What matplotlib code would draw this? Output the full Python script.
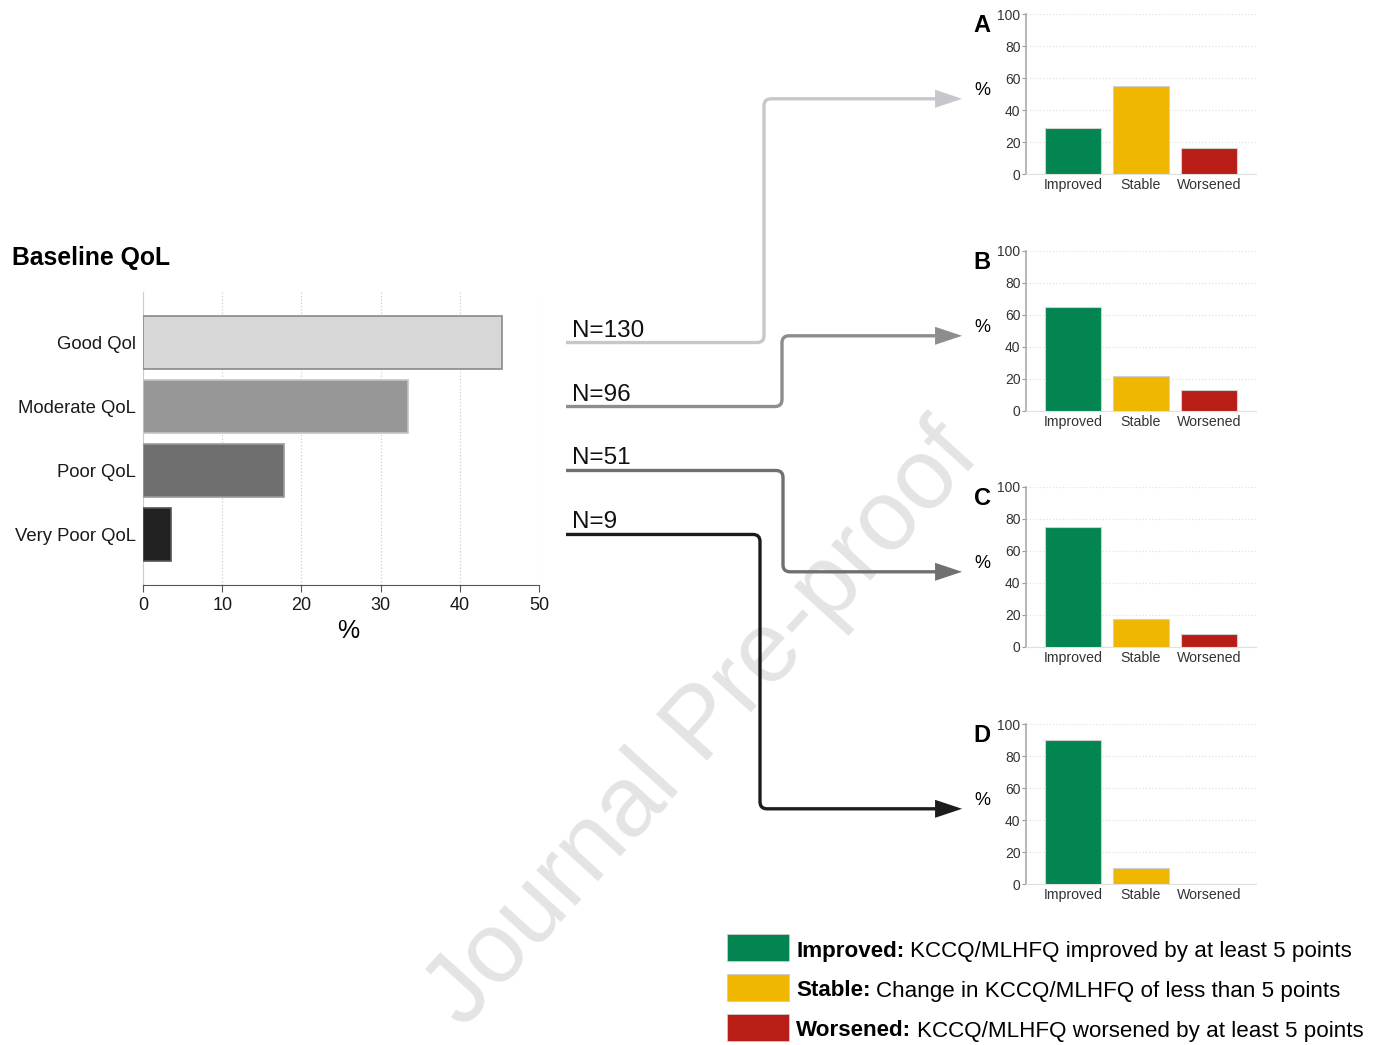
import numpy as np
import matplotlib.pyplot as plt
from matplotlib.patches import Rectangle, Polygon, PathPatch
from matplotlib.path import Path

plt.rcParams['font.family'] = ['Liberation Sans', 'DejaVu Sans']

W, H = 1380, 1045

# baseline QoL distribution
qol_labels = ['Good Qol', 'Moderate QoL', 'Poor QoL', 'Very Poor QoL']
qol_pct = [45.3, 33.5, 17.8, 3.5]
qol_n = [130, 96, 51, 9]
qol_colors = ['#d7d7d7', '#979797', '#6e6e6e', '#222222']
qol_edges = ['#8a8a8a', '#c4c4c4', '#9a9a9a', '#555555']
line_colors = ['#c6c6cc', '#8d8d8d', '#707070', '#1c1c1c']

# change at follow-up, per baseline group
panel_names = ['A', 'B', 'C', 'D']
outcomes = ['Improved', 'Stable', 'Worsened']
outcome_colors = ['#028550', '#efb700', '#b81d16']
pct_A = [29, 55, 16]
pct_B = [65, 22, 13]
pct_C = [75, 17.5, 8]
pct_D = [90, 10, 0]
panel_vals = [pct_A, pct_B, pct_C, pct_D]

legend_bold = ['Improved:', 'Stable:', 'Worsened:']
legend_text = ['KCCQ/MLHFQ improved by at least 5 points',
               'Change in KCCQ/MLHFQ of less than 5 points',
               'KCCQ/MLHFQ worsened by at least 5 points']

fig = plt.figure(figsize=(W / 100, H / 100), dpi=100)
fig.patch.set_facecolor('white')

def fx(px):
    return px / W

def fy(py):
    return 1 - py / H

# overlay in pixel coords for connectors, labels, legend
ov = fig.add_axes([0, 0, 1, 1], zorder=-1)
ov.set_xlim(0, W)
ov.set_ylim(H, 0)
ov.axis('off')
ov.patch.set_alpha(0)

ov.text(704, 726, 'Journal Pre-proof', rotation=47.8, fontsize=72, color='#e4e4e4',
        ha='center', va='center', rotation_mode='anchor', zorder=0)

# left chart
ax = fig.add_axes([fx(143), fy(585), (539 - 143) / W, (585 - 292) / H])
y = np.arange(len(qol_labels))
ax.barh(y, qol_pct, height=0.82, color=qol_colors, edgecolor=qol_edges, linewidth=1.2, zorder=3)
ax.set_ylim(3.79, -0.79)
ax.set_xlim(0, 50)
ax.set_xticks(range(0, 51, 10))
ax.set_yticks(y)
ax.set_yticklabels(qol_labels, fontsize=13.3, color='#1a1a1a')
ax.tick_params(axis='y', length=0, pad=5)
ax.tick_params(axis='x', length=5, color='#555555', labelsize=13, pad=4, labelcolor='#1a1a1a')
ax.grid(axis='x', linestyle=':', color='#cfcfcf', linewidth=0.9, zorder=0)
ax.spines['top'].set_visible(False)
ax.spines['right'].set_visible(False)
ax.spines['left'].set_color('#cccccc')
ax.spines['bottom'].set_color('#555555')
ax.set_xlabel('%', fontsize=18, labelpad=5)
ax.xaxis.set_label_coords(0.517, -0.115)
fig.text(fx(12), fy(258), 'Baseline QoL', fontsize=17.8, fontweight='bold', va='center')

# small panels
panel_bottoms = [174, 411, 647, 884]
paxes = []
for name, vals, b in zip(panel_names, panel_vals, panel_bottoms):
    pax = fig.add_axes([fx(1026), fy(b), 230 / W, 160 / H])
    pax.bar(range(3), vals, width=0.82, color=outcome_colors, edgecolor='#d0d0d0',
            linewidth=0.8, zorder=3)
    pax.set_xlim(-0.69, 2.69)
    pax.set_ylim(0, 100)
    pax.set_yticks(range(0, 101, 20))
    pax.set_xticks(range(3))
    pax.set_xticklabels(outcomes)
    pax.tick_params(axis='x', length=0, labelsize=10.2, pad=3, labelcolor='#333333')
    pax.tick_params(axis='y', length=3, labelsize=10, pad=1, color='#999999', labelcolor='#333333')
    pax.grid(axis='y', linestyle=':', color='#e2e2e2', linewidth=0.9, zorder=0)
    pax.spines['top'].set_visible(False)
    pax.spines['right'].set_visible(False)
    pax.spines['left'].set_color('#aaaaaa')
    pax.spines['left'].set_linewidth(1.2)
    pax.spines['bottom'].set_color('#e0e0e0')
    pax.text(-0.19, 0.52, '%', transform=pax.transAxes, ha='center', va='center', fontsize=13)
    pax.text(-0.19, 0.93, name, transform=pax.transAxes, ha='center', va='center',
             fontsize=17, fontweight='bold')
    paxes.append(pax)

# connectors
turn_x = [764, 782, 783, 760]
x_start = 566
tip_x_ax = -0.278
r = 7
head_len, head_w = 27, 9
for i, (n, col, tx, pax) in enumerate(zip(qol_n, line_colors, turn_x, paxes)):
    ys = H - ax.transData.transform((0, i))[1]
    ex, ey = pax.transAxes.transform((tip_x_ax, 0.47))
    ye = H - ey
    s = 1 if ye > ys else -1
    verts = [(x_start, ys), (tx - r, ys), (tx, ys), (tx, ys + s * r),
             (tx, ye - s * r), (tx, ye), (tx + r, ye), (ex - head_len + 2, ye)]
    codes = [Path.MOVETO, Path.LINETO, Path.CURVE3, Path.CURVE3,
             Path.LINETO, Path.CURVE3, Path.CURVE3, Path.LINETO]
    ov.add_patch(PathPatch(Path(verts, codes), fill=False, edgecolor=col, linewidth=2.4,
                           capstyle='butt', joinstyle='round', zorder=2))
    ov.add_patch(Polygon([(ex - head_len, ye - head_w), (ex, ye), (ex - head_len, ye + head_w)],
                         closed=True, facecolor=col, edgecolor='none', zorder=2))
    ov.text(572, ys - 1, f'N={n}', va='bottom', ha='left', fontsize=17.5, color='#111111', zorder=3)

# legend
leg_tops = [934, 974, 1014]
fig.canvas.draw()
renderer = fig.canvas.get_renderer()
for top, col, bt, rt in zip(leg_tops, outcome_colors, legend_bold, legend_text):
    ov.add_patch(Rectangle((727, top), 62, 27, facecolor=col, edgecolor='#cccccc',
                           linewidth=0.6, zorder=2))
    yc = top + 17
    t1 = ov.text(796, yc, bt, fontsize=16.1, fontweight='bold', va='center', ha='left', zorder=3)
    bb = t1.get_window_extent(renderer)
    ov.text(bb.x1 + 6, yc, rt, fontsize=16.1, va='center', ha='left', zorder=3)

fig.savefig('out.png', dpi=100, facecolor='white')
